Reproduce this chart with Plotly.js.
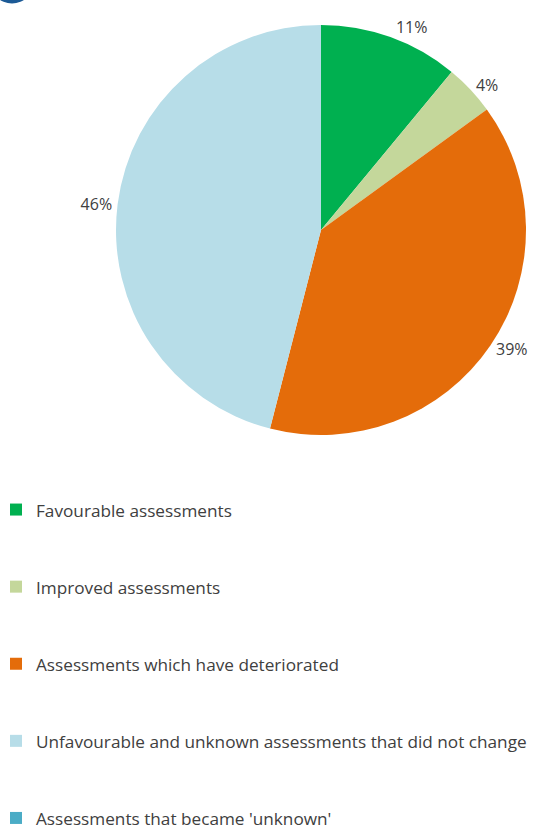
<!DOCTYPE html>
<html>
<head>
<meta charset="utf-8">
<script src="https://cdn.plot.ly/plotly-3.0.1.min.js"></script>
<style>html,body{margin:0;padding:0;background:#fff;}#chart{width:544px;height:836px;}</style>
</head>
<body>
<div id="chart"></div>
<script>
var categories = [
  "Favourable assessments",
  "Improved assessments",
  "Assessments which have deteriorated",
  "Unfavourable and unknown assessments that did not change",
  "Assessments that became 'unknown'"
];
var shares = [11, 4, 39, 46, 0];
var sliceColors = ["#00b050", "#c4d79b", "#e46c0a", "#b7dde8", "#4bacc6"];

var legendLabels = categories.map(function (c) {
  return '<br><span style="font-size:17.2px">' + c + '</span><br>';
});
var sliceTexts = shares.map(function (v) { return v > 0 ? '%{percent}' : ''; });

var trace = {
  type: 'pie',
  labels: legendLabels,
  values: shares,
  marker: { colors: sliceColors, line: { width: 0 } },
  sort: false,
  direction: 'clockwise',
  rotation: 0,
  texttemplate: sliceTexts,
  textposition: 'outside',
  outsidetextfont: { family: 'Open Sans, sans-serif', size: 16, color: '#404040' },
  hoverinfo: 'skip',
  domain: { x: [116 / 544, 526 / 544], y: [1 - 435 / 836, 1 - 25 / 836] },
  showlegend: true
};

var layout = {
  width: 544,
  height: 836,
  margin: { l: 0, r: 0, t: 0, b: 0, pad: 0, autoexpand: false },
  paper_bgcolor: '#ffffff',
  plot_bgcolor: '#ffffff',
  showlegend: true,
  legend: {
    x: -4 / 544, xanchor: 'left',
    y: 1 - 466 / 836, yanchor: 'top',
    orientation: 'v',
    bgcolor: 'rgba(0,0,0,0)',
    borderwidth: 0,
    font: { family: 'Open Sans, sans-serif', size: 19.0, color: '#404040' }
  },
  shapes: [{
    type: 'circle', xref: 'paper', yref: 'paper',
    x0: -10 / 544, x1: 34 / 544,
    y0: 1 - 3.5 / 836, y1: 1 + 40.5 / 836,
    fillcolor: '#1c5a96', line: { width: 0 }, layer: 'above'
  }]
};

Plotly.newPlot('chart', [trace], layout, { displayModeBar: false, staticPlot: true });
</script>
</body>
</html>
